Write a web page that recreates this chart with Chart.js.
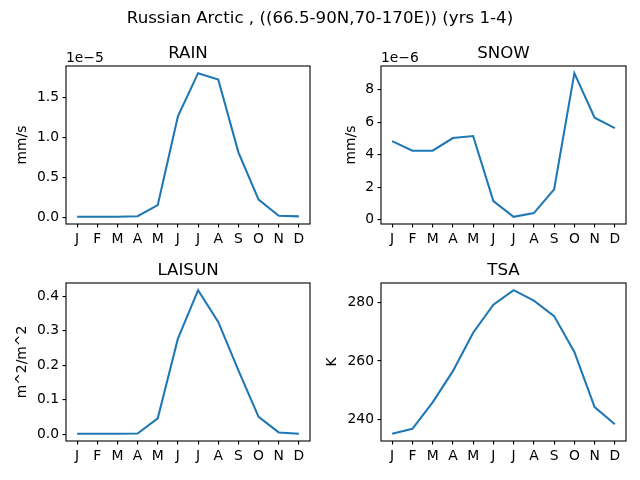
<!DOCTYPE html>
<html><head><meta charset="utf-8">
<script src="https://cdn.jsdelivr.net/npm/chart.js@4.4.1/dist/chart.umd.min.js"></script>
<style>html,body{margin:0;padding:0;background:#fff;overflow:hidden}canvas{position:absolute;left:0;top:0}</style>
</head><body>
<canvas id="c0" width="640" height="480"></canvas>
<canvas id="c1" width="640" height="480"></canvas>
<canvas id="c2" width="640" height="480"></canvas>
<canvas id="c3" width="640" height="480"></canvas>
<script>
// ---- data ----
const months = ["J","F","M","A","M","J","J","A","S","O","N","D"];
const suptitle = "Russian Arctic , ((66.5-90N,70-170E)) (yrs 1-4)";
const titles = ["RAIN","SNOW","LAISUN","TSA"];
const units = ["mm/s","mm/s","m^2/m^2","K"];
const offsets = ["1e\u22125","1e\u22126","",""];

const rain = [0.004e-5, 0.004e-5, 0.005e-5, 0.012e-5, 0.15e-5, 1.26e-5, 1.80e-5, 1.72e-5, 0.81e-5, 0.22e-5, 0.017e-5, 0.01e-5];
const snow = [4.84e-6, 4.25e-6, 4.25e-6, 5.03e-6, 5.15e-6, 1.15e-6, 0.18e-6, 0.41e-6, 1.87e-6, 9.02e-6, 6.28e-6, 5.64e-6];
const laisun = [0.001, 0.001, 0.001, 0.002, 0.046, 0.277, 0.417, 0.325, 0.185, 0.050, 0.005, 0.001];
const tsa = [235.0, 236.7, 245.8, 256.5, 269.7, 279.3, 284.3, 280.7, 275.4, 263.1, 244.2, 238.3];

const rainTicks = [0, 0.5e-5, 1.0e-5, 1.5e-5];
const rainTickLabels = ["0.0","0.5","1.0","1.5"];
const snowTicks = [0, 2e-6, 4e-6, 6e-6, 8e-6];
const snowTickLabels = ["0","2","4","6","8"];
const laiTicks = [0, 0.1, 0.2, 0.3, 0.4];
const laiTickLabels = ["0.0","0.1","0.2","0.3","0.4"];
const tsaTicks = [240, 260, 280];
const tsaTickLabels = ["240","260","280"];

// ---- layout ----
const FAM = "'DejaVu Sans', sans-serif";
const FS = 13.89, TFS = 16.67;
const boxes = [
  {l:66, t:66, r:310, b:224, labelX:22.8},
  {l:381, t:66, r:626, b:224, labelX:351.2},
  {l:66, t:283, r:310, b:441, labelX:22.8},
  {l:381, t:283, r:626, b:441, labelX:332.2}
];

const deco = {
  id: 'deco',
  afterDraw(chart, args, opts) {
    const a = chart.chartArea, ctx = chart.ctx;
    ctx.save();
    ctx.strokeStyle = '#000'; ctx.lineWidth = 1.1;
    ctx.strokeRect(a.left, a.top, a.right - a.left, a.bottom - a.top);
    ctx.fillStyle = '#000';
    ctx.font = TFS + "px " + FAM;
    ctx.textAlign = 'center'; ctx.textBaseline = 'alphabetic';
    ctx.fillText(opts.title, (a.left + a.right) / 2, a.top - 8.5);
    if (opts.offset) {
      ctx.font = FS + "px " + FAM;
      ctx.textAlign = 'left';
      ctx.fillText(opts.offset, a.left, a.top - 4.3);
    }
    if (opts.suptitle) {
      ctx.font = TFS + "px " + FAM;
      ctx.textAlign = 'center';
      ctx.fillText(opts.suptitle, 320, 22.5);
    }
    ctx.restore();
  }
};

function makeChart(idx, data, yTicks, yTickLabels) {
  const box = boxes[idx];
  const lo = Math.min(...data), hi = Math.max(...data), m = 0.05 * (hi - lo);
  const font = {family: FAM, size: FS};
  const scaleLeft = box.l - (box.labelX - FS * 1.2 / 2);
  const tickGrid = {display: true, drawOnChartArea: false, drawTicks: true, tickLength: 3.5, color: '#000', lineWidth: 1.1};
  new Chart(document.getElementById('c' + idx), {
    type: 'line',
    data: {datasets: [{
      data: data.map((v, i) => ({x: i, y: v})),
      borderColor: '#1f77b4', borderWidth: 2.08, pointRadius: 0, tension: 0, fill: false
    }]},
    options: {
      responsive: false, animation: false, devicePixelRatio: 1,
      layout: {padding: {left: box.labelX - FS * 1.2 / 2, top: box.t, right: 640 - box.r, bottom: 480 - box.b - 30}},
      plugins: {
        legend: {display: false}, tooltip: {enabled: false}, title: {display: false},
        deco: {title: titles[idx], offset: offsets[idx], suptitle: idx === 0 ? suptitle : ''}
      },
      scales: {
        x: {
          type: 'linear', min: -0.55, max: 11.55, bounds: 'data',
          grid: tickGrid, border: {display: false},
          ticks: {color: '#000', font, padding: 3.5, maxRotation: 0, autoSkip: false, callback: v => months[v]},
          afterBuildTicks: s => { s.ticks = months.map((_, i) => ({value: i})); },
          afterFit: s => { s.height = 30; }
        },
        y: {
          type: 'linear', min: lo - m, max: hi + m, bounds: 'data',
          grid: tickGrid, border: {display: false},
          ticks: {color: '#000', font, padding: 3.5, autoSkip: false,
                  callback: v => yTickLabels[yTicks.indexOf(v)]},
          afterBuildTicks: s => { s.ticks = yTicks.map(v => ({value: v})); },
          title: {display: true, text: units[idx], color: '#000', font, padding: 0},
          afterFit: s => { s.width = scaleLeft; }
        }
      }
    },
    plugins: [deco]
  });
}

makeChart(0, rain, rainTicks, rainTickLabels);
makeChart(1, snow, snowTicks, snowTickLabels);
makeChart(2, laisun, laiTicks, laiTickLabels);
makeChart(3, tsa, tsaTicks, tsaTickLabels);
</script>
</body></html>
